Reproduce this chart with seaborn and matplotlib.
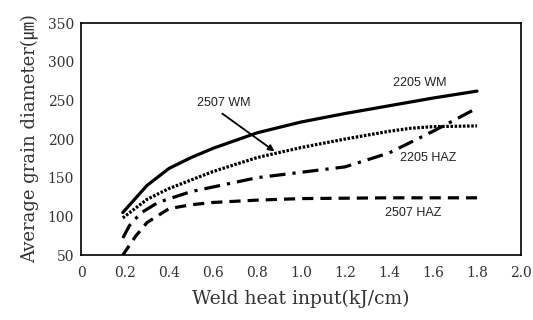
import matplotlib
matplotlib.use("Agg")
import matplotlib.pyplot as plt
import seaborn as sns
import pandas as pd

# Data
x_2205_wm = [0.19, 0.3, 0.4, 0.5, 0.6, 0.8, 1.0, 1.2, 1.4, 1.6, 1.8]
y_2205_wm = [105, 140, 162, 176, 188, 208, 222, 233, 243, 253, 262]

x_2507_wm = [0.19, 0.3, 0.4, 0.6, 0.8, 1.0, 1.2, 1.4, 1.5, 1.6, 1.8]
y_2507_wm = [98, 122, 136, 158, 176, 189, 200, 210, 214, 216, 217]

x_2205_haz = [0.19, 0.22, 0.27, 0.35, 0.5, 0.8, 1.0, 1.2, 1.4, 1.6, 1.8]
y_2205_haz = [72, 88, 104, 118, 132, 150, 157, 164, 182, 210, 240]

x_2507_haz = [0.19, 0.25, 0.3, 0.4, 0.5, 0.6, 0.8, 1.0, 1.4, 1.8]
y_2507_haz = [50, 75, 92, 110, 115, 118, 121, 123, 124, 124]

x_ticks = [0, 0.2, 0.4, 0.6, 0.8, 1.0, 1.2, 1.4, 1.6, 1.8, 2.0]
x_tick_labels = ["0", "0.2", "0.4", "0.6", "0.8", "1.0", "1.2", "1.4", "1.6", "1.8", "2.0"]
y_ticks = [50, 100, 150, 200, 250, 300, 350]

sns.set_style("white")
serif = ["DejaVu Serif", "Noto Sans CJK KR"]

fig = plt.figure(figsize=(5.33, 3.2), dpi=100)
ax = fig.add_axes([0.152, 0.203, 0.8255, 0.725])

series = [
    (x_2205_wm, y_2205_wm, "-"),
    (x_2507_wm, y_2507_wm, (0, (0.8, 0.5))),
    (x_2205_haz, y_2205_haz, (0, (5, 2.2, 1, 2.2))),
    (x_2507_haz, y_2507_haz, (0, (3.5, 2.2))),
]
for xs, ys, ls in series:
    df = pd.DataFrame({"x": xs, "y": ys})
    sns.lineplot(data=df, x="x", y="y", ax=ax, color="black", lw=2.3,
                 linestyle=ls, legend=False)

ax.set_xlim(0, 2.0)
ax.set_ylim(50, 350)
ax.set_xticks(x_ticks)
ax.set_xticklabels(x_tick_labels)
ax.set_yticks(y_ticks)
ax.tick_params(length=0, labelsize=10, colors="#333333")
ax.tick_params(axis="x", pad=8)
ax.tick_params(axis="y", pad=5)
for lab in ax.get_xticklabels() + ax.get_yticklabels():
    lab.set_family(serif)

for s in ax.spines.values():
    s.set_visible(True)
    s.set_color("black")
    s.set_linewidth(1.2)

ax.set_xlabel("Weld heat input(kJ/cm)", family=serif, fontsize=13.5, labelpad=7, color="#333333")
ax.set_ylabel("Average grain diameter(\u339b)", family=serif, fontsize=13, labelpad=6, color="#333333")

tfont = dict(family="Liberation Sans", fontsize=9, color="#222222")
ax.text(1.42, 272, "2205 WM", va="center", ha="left", **tfont)
ax.text(0.527, 246.5, "2507 WM", va="center", ha="left", **tfont)
ax.text(1.45, 175, "2205 HAZ", va="center", ha="left", **tfont)
ax.text(1.38, 104, "2507 HAZ", va="center", ha="left", **tfont)
ax.annotate("", xy=(0.89, 182), xytext=(0.632, 235),
            arrowprops=dict(arrowstyle="-|>", color="black", lw=1.3, mutation_scale=9))

fig.savefig("out.png", dpi=100)
